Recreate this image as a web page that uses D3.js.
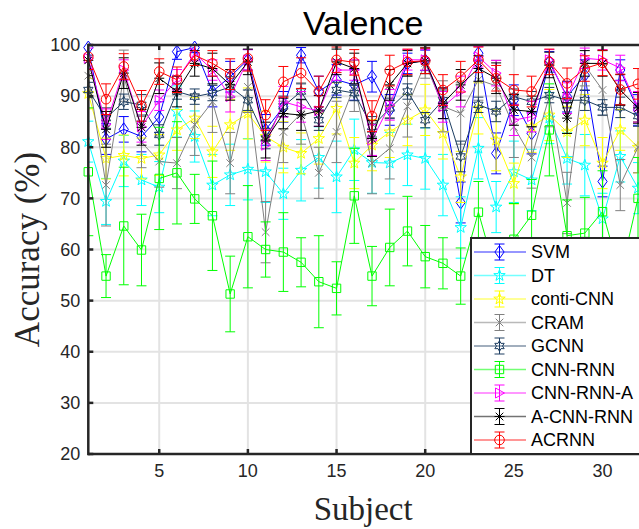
<!DOCTYPE html>
<html>
<head>
<meta charset="utf-8">
<script src="https://cdn.jsdelivr.net/npm/d3@7"></script>
<style>
  body { margin: 0; background: #fff; }
</style>
</head>
<body>
<div id="chart"></div>
<script>
// subjects and accuracy per method
let subjects = [1, 2, 3, 4, 5, 6, 7, 8, 9, 10, 11, 12, 13, 14, 15, 16, 17, 18, 19, 20, 21, 22, 23, 24, 25, 26, 27, 28, 29, 30, 31, 32]
let xTicks = [5, 10, 15, 20, 25, 30]
let yTicks = [20, 30, 40, 50, 60, 70, 80, 90, 100]

let methods = ["SVM", "DT", "conti-CNN", "CRAM", "GCNN", "CNN-RNN", "CNN-RNN-A", "A-CNN-RNN", "ACRNN"]

let svm = [99.5, 81.6, 83.5, 82.1, 85.9, 98.7, 99.5, 90.9, 93.8, 97.1, 83.4, 87.9, 98.0, 90.9, 93.2, 92.2, 93.8, 87.3, 96.4, 97.0, 88.6, 69.2, 98.4, 78.8, 89.2, 82.7, 96.7, 89.9, 94.1, 73.3, 95.1, 87.3]
let dt = [81.1, 69.4, 77.3, 73.6, 72.2, 87.0, 82.1, 72.6, 74.6, 75.7, 75.2, 70.9, 75.5, 78.0, 74.2, 79.5, 77.0, 76.9, 78.5, 77.8, 72.6, 64.3, 79.8, 68.3, 75.2, 73.6, 85.7, 77.8, 76.5, 66.0, 78.2, 72.0]
let contiCnn = [90.5, 77.8, 78.4, 77.8, 78.5, 83.4, 85.7, 79.1, 84.4, 86.6, 82.1, 80.0, 78.8, 81.7, 87.6, 76.9, 80.4, 83.0, 85.3, 87.3, 82.7, 74.2, 87.6, 81.4, 72.9, 84.0, 86.3, 83.0, 85.3, 76.9, 83.4, 80.0]
let cram = [94.0, 72.6, 94.0, 81.0, 77.2, 76.9, 84.4, 88.9, 76.9, 91.8, 63.4, 83.0, 86.6, 75.0, 83.0, 92.0, 76.9, 79.8, 88.0, 96.5, 88.0, 86.6, 93.2, 92.0, 84.0, 78.0, 90.0, 69.1, 96.0, 91.2, 72.6, 80.0]
let gcnn = [91.2, 85.7, 88.9, 88.3, 82.4, 90.9, 89.9, 90.6, 91.8, 89.2, 81.7, 88.0, 90.9, 85.3, 91.2, 90.6, 84.0, 87.6, 90.9, 85.3, 89.2, 78.2, 88.3, 87.0, 89.9, 88.9, 90.2, 89.2, 89.2, 87.8, 87.8, 86.1]
let cnnRnn = [75.2, 54.8, 64.6, 59.9, 73.9, 75.0, 69.9, 66.6, 51.3, 62.5, 60.0, 59.5, 57.5, 53.7, 52.4, 70.5, 54.8, 60.4, 63.6, 58.6, 57.3, 54.8, 67.3, 55.0, 62.0, 66.7, 83.4, 62.7, 63.2, 67.4, 55.0, 70.0]
let cnnRnnA = [97.4, 84.5, 95.1, 84.0, 89.2, 93.2, 98.4, 95.1, 89.9, 97.1, 80.4, 88.9, 87.9, 87.1, 95.1, 95.1, 81.4, 88.3, 97.1, 97.1, 87.9, 90.9, 97.7, 94.5, 85.3, 86.0, 97.1, 89.6, 97.4, 97.1, 95.5, 87.9]
let aCnnRnn = [97.0, 83.5, 94.5, 83.9, 93.5, 90.9, 96.4, 95.4, 92.2, 96.7, 81.4, 86.6, 86.3, 87.1, 96.7, 95.4, 81.7, 92.2, 96.4, 96.9, 88.6, 92.2, 95.4, 93.5, 87.3, 87.0, 96.1, 85.7, 96.4, 96.4, 91.2, 87.7]
let acrnn = [97.7, 89.4, 95.8, 88.1, 94.8, 93.2, 98.0, 96.4, 94.3, 97.4, 86.3, 92.8, 94.5, 90.9, 97.1, 96.6, 86.1, 95.0, 96.7, 96.9, 91.2, 93.8, 97.1, 93.5, 91.2, 90.9, 96.7, 92.5, 95.4, 96.5, 91.3, 92.4]

// standard deviations (error bar half-lengths)
let svmErr = [1.5, 3, 2.5, 3, 3, 1.5, 1, 3, 3, 2, 3, 3, 1.5, 3, 3, 3, 3, 3, 2, 2, 3, 4, 1.5, 4, 3, 4, 2, 3, 3, 3, 2, 3]
let dtErr = [4, 4.5, 5, 5, 5, 5, 5, 6, 6, 6, 6, 5, 6, 6, 7, 6, 6, 6, 6, 6, 6, 6, 6, 5, 6, 6, 5, 5, 6, 5, 5, 5]
let contiCnnErr = [3, 4, 4, 4, 4, 4, 4, 5, 5, 5, 5, 5, 4, 5, 5, 5, 5, 5, 5, 5, 5, 5, 5, 6, 4, 5, 5, 5, 5, 5, 4, 5]
let cramErr = [4, 8, 5, 5, 5, 5, 6, 6, 6, 5, 6, 6, 6, 5, 6, 5, 6, 6, 6, 3, 5, 6, 4, 5, 6, 6, 6, 6, 4, 5, 5, 5]
let gcnnErr = [1.5, 2, 1.5, 2, 2, 1.5, 1.5, 1.5, 2, 2, 2, 2, 1.5, 2, 1.5, 1.5, 2, 2, 1.5, 1.5, 2, 3, 1.5, 2, 1.5, 2, 1.5, 1.5, 2, 1.5, 2, 2]
let cnnRnnErr = [12.5, 4.2, 11.5, 7, 10, 10, 4.8, 10.7, 7.4, 10, 5.4, 7.7, 4.8, 9, 5.2, 9.3, 5.8, 7.5, 6.8, 6.1, 5, 5.5, 6, 7, 7, 7, 9, 7, 7, 8, 7, 8]
let cnnRnnAErr = [2, 3, 2, 3, 2, 2, 1.5, 2, 3, 2, 3, 3, 3, 3, 2, 2, 3, 3, 2, 2, 3, 3, 2, 2.5, 3, 3, 2, 3, 2, 2, 2.5, 3]
let aCnnRnnErr = [3, 3.5, 3, 3.5, 3, 3, 2.5, 3, 3, 2.5, 3.5, 3, 3, 3, 2.5, 3, 3.5, 3, 2.5, 2.5, 3, 3, 2.5, 3, 3, 3, 2.5, 3, 2.5, 2.5, 3, 3]
let acrnnErr = [2.5, 3, 2.5, 3, 2.5, 2.5, 2, 2.5, 3, 2.5, 3, 3, 3, 3, 2.5, 2.5, 3, 3, 2.5, 2.5, 3, 3, 2.5, 2.5, 3, 3, 2.5, 3, 2.5, 2.5, 3, 3]

let seriesValues = [svm, dt, contiCnn, cram, gcnn, cnnRnn, cnnRnnA, aCnnRnn, acrnn]
let seriesErrors = [svmErr, dtErr, contiCnnErr, cramErr, gcnnErr, cnnRnnErr, cnnRnnAErr, aCnnRnnErr, acrnnErr]
let colors = ["#0000ff", "#00ffff", "#ffff00", "#808080", "#1c3d61", "#00ff00", "#ff00ff", "#000000", "#ff0000"]
let markers = ["diamond", "pentagram", "pentagram", "x", "hexagram", "square", "triangleRight", "asterisk", "circle"]

let width = 639
let height = 529
let pL = 88.3, pR = 638, pT = 45, pB = 454
let axisColor = "#262626"

let x = d3.scaleLinear().domain([1, 32]).range([pL, pR])
let y = d3.scaleLinear().domain([20, 100]).range([pB, pT])

let svg = d3.select("#chart").append("svg")
  .attr("width", width)
  .attr("height", height)
  .attr("viewBox", [0, 0, width, height])

svg.append("defs").append("clipPath").attr("id", "plotclip")
  .append("rect").attr("x", pL).attr("y", pT).attr("width", pR - pL + 2).attr("height", pB - pT)

// grid
svg.append("g")
  .selectAll("line")
  .data(yTicks)
  .join("line")
  .attr("x1", pL).attr("x2", pR)
  .attr("y1", d => y(d)).attr("y2", d => y(d))
  .attr("stroke", "#e3e3e3").attr("stroke-width", 2)
svg.append("g")
  .selectAll("line")
  .data(xTicks)
  .join("line")
  .attr("x1", d => x(d)).attr("x2", d => x(d))
  .attr("y1", pT).attr("y2", pB)
  .attr("stroke", "#e3e3e3").attr("stroke-width", 2)

// marker path builder
function markerPath(type) {
  let p = d3.path()
  if (type == "circle") {
    p.moveTo(4.8, 0); p.arc(0, 0, 4.8, 0, 2 * Math.PI)
  } else if (type == "diamond") {
    p.moveTo(0, -6.5); p.lineTo(4.6, 0); p.lineTo(0, 6.5); p.lineTo(-4.6, 0); p.closePath()
  } else if (type == "square") {
    p.rect(-4.2, -4.2, 8.4, 8.4)
  } else if (type == "pentagram") {
    for (let i = 0; i < 10; i++) {
      let r = i % 2 ? 2.4 : 6
      let a = -Math.PI / 2 + i * Math.PI / 5
      if (i == 0) p.moveTo(r * Math.cos(a), r * Math.sin(a))
      else p.lineTo(r * Math.cos(a), r * Math.sin(a))
    }
    p.closePath()
  } else if (type == "hexagram") {
    for (let i = 0; i < 12; i++) {
      let r = i % 2 ? 3 : 5.4
      let a = -Math.PI / 2 + i * Math.PI / 6
      if (i == 0) p.moveTo(r * Math.cos(a), r * Math.sin(a))
      else p.lineTo(r * Math.cos(a), r * Math.sin(a))
    }
    p.closePath()
  } else if (type == "triangleRight") {
    p.moveTo(5, 0); p.lineTo(-4, -5); p.lineTo(-4, 5); p.closePath()
  } else if (type == "x") {
    p.moveTo(-3.8, -3.8); p.lineTo(3.8, 3.8); p.moveTo(-3.8, 3.8); p.lineTo(3.8, -3.8)
  } else if (type == "asterisk") {
    p.moveTo(-3.8, -3.8); p.lineTo(3.8, 3.8); p.moveTo(-3.8, 3.8); p.lineTo(3.8, -3.8)
    p.moveTo(0, -5); p.lineTo(0, 5); p.moveTo(-5, 0); p.lineTo(5, 0)
  }
  return p.toString()
}

let cap = 5

seriesValues.forEach((vals, k) => {
  let errs = seriesErrors[k]
  let pts = subjects.map((s, i) => ({s: s, v: vals[i], e: errs[i]}))
  let g = svg.append("g").attr("clip-path", "url(#plotclip)")
    .attr("stroke", colors[k]).attr("fill", "none").attr("stroke-width", 1)

  // error bars
  let eb = g.selectAll("g").data(pts).join("g")
  eb.append("line")
    .attr("x1", d => x(d.s)).attr("x2", d => x(d.s))
    .attr("y1", d => y(d.v - d.e)).attr("y2", d => y(d.v + d.e))
  eb.append("line")
    .attr("x1", d => x(d.s) - cap).attr("x2", d => x(d.s) + cap)
    .attr("y1", d => y(d.v + d.e)).attr("y2", d => y(d.v + d.e))
  eb.append("line")
    .attr("x1", d => x(d.s) - cap).attr("x2", d => x(d.s) + cap)
    .attr("y1", d => y(d.v - d.e)).attr("y2", d => y(d.v - d.e))

  // connecting line
  g.append("path")
    .attr("d", d3.line().x(d => x(d.s)).y(d => y(d.v))(pts))

  // markers (not clipped, like matlab)
  svg.append("g")
    .selectAll("path")
    .data(pts)
    .join("path")
    .attr("transform", d => `translate(${x(d.s)},${y(d.v)})`)
    .attr("d", markerPath(markers[k]))
    .attr("fill", "none")
    .attr("stroke", colors[k])
    .attr("stroke-width", 1)
})

// axes box
let axes = svg.append("g").attr("stroke", axisColor).attr("stroke-width", 2.5).attr("fill", "none")
axes.append("line").attr("x1", pL).attr("x2", pL).attr("y1", pT - 1.2).attr("y2", pB + 1.2)
axes.append("line").attr("x1", pL).attr("x2", pR + 2).attr("y1", pB).attr("y2", pB)
axes.append("line").attr("x1", pL).attr("x2", pR + 2).attr("y1", pT).attr("y2", pT)

axes.append("g").selectAll("line").data(yTicks).join("line")
  .attr("x1", pL).attr("x2", pL + 5)
  .attr("y1", d => y(d)).attr("y2", d => y(d))
axes.append("g").selectAll("line").data(xTicks).join("line")
  .attr("x1", d => x(d)).attr("x2", d => x(d))
  .attr("y1", pB).attr("y2", pB - 5)
axes.append("g").selectAll("line").data(xTicks).join("line")
  .attr("x1", d => x(d)).attr("x2", d => x(d))
  .attr("y1", pT).attr("y2", pT + 5)

// tick labels
svg.append("g").selectAll("text").data(yTicks).join("text")
  .attr("x", pL - 8).attr("y", d => y(d)).attr("dy", "0.35em")
  .style("text-anchor", "end")
  .attr("font-family", "Liberation Sans, Arial, sans-serif").attr("font-size", 18)
  .attr("fill", axisColor)
  .text(d => d)
svg.append("g").selectAll("text").data(xTicks).join("text")
  .attr("x", d => x(d)).attr("y", pB + 23)
  .style("text-anchor", "middle")
  .attr("font-family", "Liberation Sans, Arial, sans-serif").attr("font-size", 18)
  .attr("fill", axisColor)
  .text(d => d)

// title and axis labels
svg.append("text")
  .attr("x", (pL + pR) / 2).attr("y", 35)
  .style("text-anchor", "middle")
  .attr("font-family", "Liberation Sans, Arial, sans-serif").attr("font-size", 34)
  .attr("fill", "#000")
  .text("Valence")
svg.append("text")
  .attr("x", (pL + pR) / 2).attr("y", 520)
  .style("text-anchor", "middle")
  .attr("font-family", "Liberation Serif, Times New Roman, serif").attr("font-size", 33)
  .attr("fill", axisColor)
  .text("Subject")
svg.append("text")
  .attr("transform", `translate(39,${(pT + pB) / 2}) rotate(-90)`)
  .style("text-anchor", "middle")
  .attr("font-family", "Liberation Serif, Times New Roman, serif").attr("font-size", 35)
  .attr("fill", axisColor)
  .text("Accuracy (%)")

// legend
let lgX = 471, lgY = 238, rowH = 23.5
let legend = svg.append("g")
legend.append("rect")
  .attr("x", lgX).attr("y", lgY).attr("width", 200).attr("height", pB - lgY)
  .attr("fill", "#fff").attr("stroke", axisColor).attr("stroke-width", 2)

methods.forEach((m, k) => {
  let cy = lgY + 14 + k * rowH
  let cx = 499.5
  let g = legend.append("g").attr("stroke", colors[k]).attr("fill", "none")
  g.append("line").attr("x1", 474).attr("x2", 526).attr("y1", cy).attr("y2", cy)
    .attr("stroke-opacity", 0.55).attr("stroke-width", 1.5)
  g.append("line").attr("x1", cx).attr("x2", cx).attr("y1", cy - 8).attr("y2", cy + 8)
  g.append("line").attr("x1", cx - 5).attr("x2", cx + 5).attr("y1", cy - 8).attr("y2", cy - 8)
  g.append("line").attr("x1", cx - 5).attr("x2", cx + 5).attr("y1", cy + 8).attr("y2", cy + 8)
  g.append("path").attr("transform", `translate(${cx},${cy})`).attr("d", markerPath(markers[k]))
  legend.append("text")
    .attr("x", 531).attr("y", cy).attr("dy", "0.36em")
    .attr("font-family", "Liberation Sans, Arial, sans-serif").attr("font-size", 18)
    .attr("fill", "#000")
    .text(m)
})
</script>
</body>
</html>
